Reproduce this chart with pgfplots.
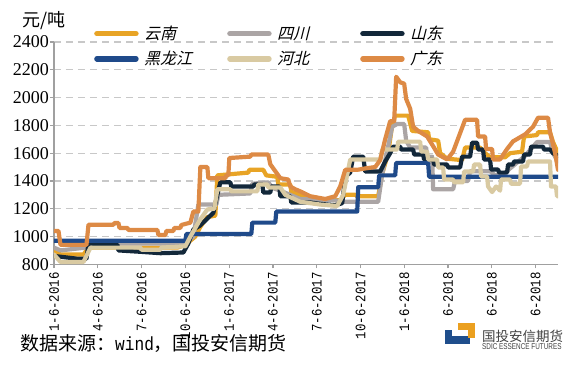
\documentclass[border=0pt]{standalone}
\usepackage{pgfplots}
\pgfplotsset{compat=1.18}
\usepackage{fontspec}
\setmainfont{Liberation Serif}
\newfontfamily\monofont[FakeStretch=0.85]{Liberation Mono}
\newfontfamily\cjk{Noto Sans CJK SC}
\newfontfamily\legfont[FakeSlant=0.25]{Noto Sans CJK SC}
\newfontfamily\logosans[FakeStretch=0.75]{Liberation Sans}
\definecolor{cYN}{HTML}{E8A426}
\definecolor{cSC}{HTML}{ABA5A5}
\definecolor{cSD}{HTML}{13283A}
\definecolor{cHLJ}{HTML}{1F4A8A}
\definecolor{cHB}{HTML}{D9CAA2}
\definecolor{cGD}{HTML}{DD8A45}
\definecolor{axgray}{HTML}{A0A0A0}
\definecolor{gridgray}{HTML}{C8C8C8}
\definecolor{logoblue}{HTML}{1F4E8C}
\definecolor{logoorange}{HTML}{EBA020}
\begin{document}
\begin{tikzpicture}
\path[use as bounding box] (0pt,0pt) rectangle (576pt,365pt);
\begin{axis}[
  at={(54pt,100.7pt)}, anchor=south west,
  width=504pt, height=222.3pt, scale only axis,
  xmin=0, xmax=34.53, ymin=800, ymax=2400,
  x filter/.expression={(x-53.5)/14.61},
  axis x line=bottom, axis y line=left,
  axis line style={-, axgray, line width=1.2pt},
  xtick={0,3,...,33},
  xticklabels={1-6-2016,4-6-2016,7-6-2016,10-6-2016,1-6-2017,4-6-2017,7-6-2017,10-6-2017,1-6-2018,6-2018,6-2018,6-2018},
  ytick={800,1000,...,2400},
  tick style={axgray, line width=1.2pt},
  tick align=outside, major tick length=4pt,
  ymajorgrids, grid style={gridgray, line width=1.3pt, dash pattern=on 7pt off 5pt},
  /pgf/number format/assume math mode=true,
  /pgf/number format/1000 sep={},
  yticklabel style={font=\fontsize{18}{18}\selectfont, inner xsep=1pt},
  xticklabel style={font=\monofont\fontsize{14.5}{14.5}\selectfont, rotate=90, anchor=east, inner xsep=4pt},
  every axis plot/.append style={line width=4.2pt, line join=round, line cap=round},
  legend columns=3,
  legend image code/.code={\draw[#1, line width=5.5pt, line cap=round] (0pt,0pt) -- (39pt,0pt);},
  legend style={draw=none, fill=none, at={(axis description cs:0,1)}, anchor=north west,
    xshift=40pt, yshift=18pt, inner sep=0pt, row sep=6pt,
    font=\legfont\fontsize{16}{16}\selectfont,
    /tikz/every odd column/.append style={column sep=3.5pt},
    /tikz/every even column/.append style={column sep=11pt}},
]
% 云南
\addplot[cYN] coordinates {(53.5,900)(60,870)(83,870)(88,920)(177,920)(185,940)(195,1000)(200,1070)(207,1140)(215,1150)(217,1440)(248,1460)(249,1480)(263,1480)(266,1440)(277,1430)(278,1375)(290,1375)(291,1320)(300,1300)(320,1270)(340,1260)(345,1300)(355,1300)(357,1290)(378,1290)(382,1450)(388,1600)(392,1800)(395,1870)(408,1870)(412,1760)(428,1750)(429,1700)(438,1690)(440,1600)(447,1560)(462,1550)(465,1640)(480,1640)(485,1600)(490,1570)(505,1570)(510,1600)(522,1610)(524,1720)(537,1730)(538,1750)(550,1750)(553,1680)(558,1600)};
\addlegendentry{\makebox[70pt][l]{云南}}
% 四川
\addplot[cSC] coordinates {(53.5,920)(60,900)(85,920)(90,950)(185,950)(193,1000)(198,1230)(216,1230)(218,1300)(250,1310)(252,1380)(268,1390)(272,1350)(280,1330)(290,1300)(300,1270)(335,1260)(345,1250)(378,1250)(382,1450)(388,1650)(392,1790)(397,1810)(404,1810)(406,1690)(410,1640)(426,1640)(427,1575)(432,1575)(433,1340)(453,1340)(455,1400)(468,1400)(470,1470)(490,1470)(495,1440)(505,1460)(515,1520)(525,1580)(537,1680)(550,1680)(553,1600)(558,1540)};
\addlegendentry{\makebox[70pt][l]{四川}}
% 山东
\addplot[cSD] coordinates {(53.5,860)(77,840)(86,840)(88,950)(117,940)(118,900)(140,890)(160,880)(183,885)(188,950)(193,1050)(200,1080)(207,1130)(213,1170)(217,1300)(220,1390)(230,1390)(231,1360)(253,1360)(254,1375)(262,1375)(263,1317)(270,1317)(271,1360)(279,1360)(280,1290)(290,1290)(291,1245)(310,1245)(320,1235)(335,1225)(342,1240)(345,1430)(350,1460)(353,1575)(363,1575)(365,1468)(380,1468)(385,1540)(390,1600)(393,1647)(400,1647)(401,1626)(413,1626)(414,1590)(423,1590)(424,1554)(433,1554)(434,1518)(447,1518)(448,1497)(460,1497)(462,1575)(470,1575)(472,1675)(477,1675)(478,1626)(483,1626)(484,1554)(490,1554)(491,1482)(498,1482)(499,1460)(507,1460)(508,1518)(513,1518)(514,1540)(523,1540)(524,1590)(530,1590)(531,1647)(543,1647)(544,1626)(550,1626)(553,1600)(558,1580)};
\addlegendentry{\makebox[70pt][l]{山东}}
% 黑龙江
\addplot[cHLJ] coordinates {(53.5,970)(185,970)(186,1018)(251,1018)(252,1100)(275,1100)(276,1180)(357,1180)(358,1355)(378,1355)(379,1440)(395,1440)(396,1530)(428,1530)(429,1430)(558,1430)};
\addlegendentry{\makebox[70pt][l]{黑龙江}}
% 河北
\addplot[cHB] coordinates {(53.5,870)(60,817)(83,817)(90,920)(140,920)(141,905)(160,905)(161,920)(185,930)(190,1000)(200,1124)(207,1195)(214,1200)(217,1340)(230,1340)(231,1325)(257,1325)(258,1375)(267,1375)(268,1353)(280,1353)(285,1300)(300,1250)(320,1230)(337,1220)(343,1300)(350,1554)(380,1554)(382,1626)(397,1626)(398,1683)(420,1683)(421,1611)(427,1611)(428,1554)(437,1554)(438,1497)(443,1497)(444,1410)(453,1410)(454,1390)(463,1390)(464,1468)(473,1468)(474,1518)(480,1518)(481,1432)(487,1432)(488,1360)(492,1320)(496,1360)(500,1330)(501,1410)(510,1410)(511,1380)(520,1380)(521,1504)(527,1504)(528,1540)(550,1540)(551,1360)(556,1360)(557,1290)(558,1290)};
\addlegendentry{\makebox[70pt][l]{河北}}
% 广东
\addplot[cGD] coordinates {(53.5,1040)(58,1040)(60,940)(86,940)(88,1085)(113,1085)(114,1097)(118,1097)(119,1062)(127,1062)(128,1047)(157,1047)(158,1011)(165,1011)(166,1040)(173,1040)(174,1062)(180,1062)(181,1083)(190,1100)(193,1180)(198,1180)(200,1500)(207,1500)(208,1420)(225,1420)(226,1440)(228,1440)(229,1565)(250,1575)(251,1590)(268,1590)(270,1520)(275,1470)(280,1420)(288,1410)(290,1360)(295,1340)(300,1325)(310,1290)(325,1270)(335,1290)(340,1360)(345,1480)(357,1480)(365,1490)(375,1500)(380,1550)(385,1700)(390,1830)(394,1830)(396,2150)(400,2110)(404,2100)(406,1990)(410,1920)(413,1790)(418,1760)(427,1720)(433,1650)(438,1590)(447,1555)(453,1610)(465,1840)(477,1840)(478,1720)(485,1720)(486,1630)(492,1630)(493,1555)(500,1555)(507,1630)(513,1685)(525,1735)(533,1790)(538,1855)(548,1855)(550,1750)(555,1605)(558,1480)};
\addlegendentry{\makebox[70pt][l]{广东}}
\end{axis}
% unit label
\node[anchor=west, inner sep=0pt, font=\cjk\fontsize{18}{18}\selectfont] at (22pt,344pt) {元/吨};
% source
\node[anchor=west, inner sep=0pt, font=\fontsize{19}{19}\selectfont] at (20pt,22pt) {{\cjk 数据来源：}{\monofont wind}{\cjk ，国投安信期货}};
% logo
\fill[logoblue] (445pt,21pt) rectangle (470pt,29pt);
\fill[logoblue] (445pt,21pt) rectangle (452pt,35pt);
\fill[logoorange] (458pt,35pt) rectangle (475pt,42pt);
\fill[logoorange] (468pt,27pt) rectangle (475pt,42pt);
\node[anchor=west, inner sep=0pt, text=black!75, font=\cjk\fontsize{13.5}{13.5}\selectfont] at (482pt,29pt) {国投安信期货};
\node[anchor=west, inner sep=0pt, text=black!75, font=\logosans\fontsize{8.5}{8.5}\selectfont] at (482pt,18pt) {SDIC ESSENCE FUTURES};
\end{tikzpicture}
\end{document}
